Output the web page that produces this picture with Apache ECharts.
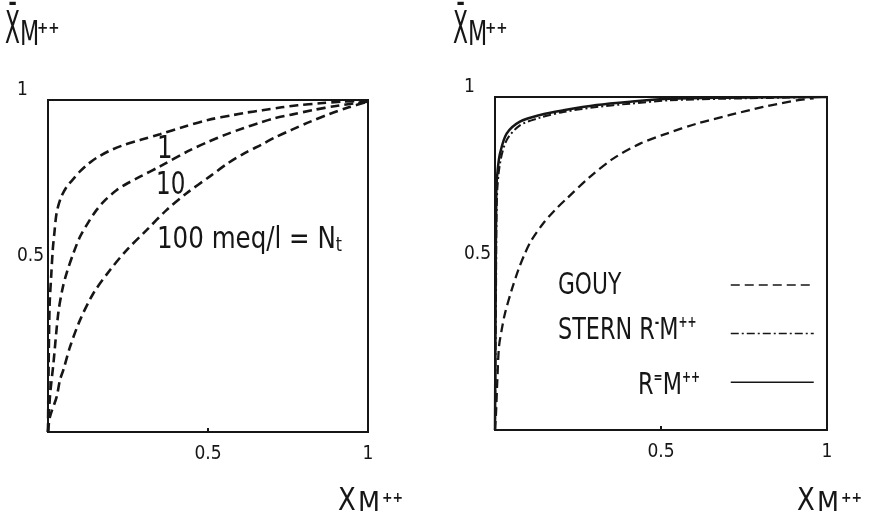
<!DOCTYPE html>
<html><head><meta charset="utf-8">
<script src="https://cdn.jsdelivr.net/npm/echarts@6/dist/echarts.min.js"></script>
<style>html,body{margin:0;padding:0;background:#fff}#c{width:887px;height:517px}</style>
</head><body><div id="c"></div>
<script>
// ---- data ----
const axisTicks = [0, 0.5, 1];
const tickLabels = ['', '0.5', '1'];

// Left panel: N_t = 1, 10, 100 meq/l  (x = X_M++, y = Xbar_M++)
const curveNt1 = [[0,0],[0.002,0.2],[0.005,0.38],[0.01,0.47],[0.015,0.55],[0.02,0.6],[0.027,0.66],[0.04,0.705],[0.058,0.738],[0.08,0.763],[0.1,0.785],[0.125,0.807],[0.152,0.826],[0.19,0.846],[0.23,0.862],[0.29,0.88],[0.35,0.897],[0.42,0.918],[0.5,0.94],[0.58,0.955],[0.62,0.962],[0.67,0.969],[0.73,0.978],[0.78,0.984],[0.85,0.99],[0.92,0.995],[1,0.998]];
const curveNt10 = [[0,0],[0.006,0.106],[0.017,0.207],[0.032,0.357],[0.045,0.43],[0.058,0.478],[0.08,0.54],[0.1,0.588],[0.125,0.63],[0.152,0.669],[0.18,0.7],[0.215,0.729],[0.25,0.75],[0.2875,0.769],[0.35,0.8],[0.444,0.849],[0.501,0.874],[0.553,0.895],[0.61,0.915],[0.657,0.93],[0.704,0.944],[0.761,0.956],[0.83,0.97],[0.9,0.982],[1,0.995]];
const curveNt100 = [[0,0],[0.006,0.045],[0.027,0.106],[0.0375,0.157],[0.048,0.187],[0.069,0.257],[0.1,0.337],[0.142,0.418],[0.194,0.488],[0.246,0.548],[0.308,0.608],[0.371,0.669],[0.433,0.719],[0.506,0.77],[0.563,0.81],[0.616,0.841],[0.668,0.866],[0.709,0.887],[0.761,0.91],[0.82,0.935],[0.88,0.958],[0.94,0.978],[1,0.995]];
const leftCurveLabels = ['1', '10', '100 meq/l = N'];

// Right panel
const gouy = [[0,0],[0.003,0.05],[0.007,0.15],[0.012,0.25],[0.02,0.3],[0.03,0.35],[0.05,0.42],[0.07,0.48],[0.09,0.53],[0.11,0.57],[0.145,0.62],[0.18,0.66],[0.216,0.695],[0.286,0.76],[0.356,0.815],[0.437,0.86],[0.517,0.89],[0.608,0.92],[0.708,0.946],[0.808,0.97],[0.909,0.99],[0.96,0.996]];
const stern = [[0,0],[0.003,0.4],[0.006,0.7],[0.015,0.8],[0.035,0.87],[0.075,0.915],[0.136,0.938],[0.206,0.955],[0.306,0.97],[0.407,0.98],[0.527,0.99],[0.7,0.995],[1,1]];
const rm = [[0,0],[0.002,0.4],[0.004,0.72],[0.008,0.78],[0.015,0.83],[0.035,0.89],[0.075,0.926],[0.136,0.946],[0.206,0.96],[0.306,0.976],[0.407,0.986],[0.527,0.995],[0.7,0.998],[1,1]];
const legendNames = ['GOUY', 'STERN R-M++', 'R=M++'];

// ---- chart ----
const INK = '#161616';
const FONT = "'Liberation Sans Narrow','DejaVu Sans Condensed',sans-serif";
const chart = echarts.init(document.getElementById('c'), null, {renderer: 'canvas'});

function mkX(i) {
  return {
    type: 'value', gridIndex: i, min: 0, max: 1, interval: 0.5,
    axisLine: {show: false}, splitLine: {show: false},
    axisTick: {show: true, inside: true, length: 4, lineStyle: {color: INK, width: 2}},
    axisLabel: {margin: 13, color: INK, fontSize: 19, fontFamily: FONT,
      formatter: v => tickLabels[axisTicks.indexOf(v)] || ''}
  };
}
function mkY(i) {
  return {
    type: 'value', gridIndex: i, min: 0, max: 1, interval: 0.5,
    axisLine: {show: false}, splitLine: {show: false}, axisTick: {show: false},
    axisLabel: {margin: 31, align: 'left', color: INK, fontSize: 19, fontFamily: FONT, verticalAlign: 'bottom',
      formatter: v => tickLabels[axisTicks.indexOf(v)] || ''}
  };
}
function line(name, data, gi, type, width) {
  return {
    name, type: 'line', xAxisIndex: gi, yAxisIndex: gi, data,
    symbol: 'none', showSymbol: false, smooth: 0.3, clip: true,
    lineStyle: {color: INK, width, type}, itemStyle: {color: INK}, animation: false
  };
}
const dash = [9, 5];
const dashDot = [8, 3, 2, 3];

const sup = {fontSize: 15, fontWeight: 'bold', verticalAlign: 'top', fontFamily: FONT, fill: INK};
const big = {fontSize: 31, fontFamily: FONT, fill: INK};

function yName(x0) {
  return [
    {type: 'text', x: x0, y: 32, scaleX: 0.55, style: {text: 'X\u0304', font: `44px ${FONT}`, fill: INK, verticalAlign: 'middle'}},
    {type: 'text', x: x0 + 15, y: 36, scaleX: 0.75, style: {text: 'M', font: `33px ${FONT}`, fill: INK, verticalAlign: 'middle'}},
    {type: 'text', x: x0 + 32, y: 29, style: {text: '++', font: `bold 15px ${FONT}`, fill: INK, verticalAlign: 'middle'}}
  ];
}
function xName(x0) {
  return [
    {type: 'text', x: x0, y: 502, scaleX: 0.9, style: {text: 'X', font: `32px ${FONT}`, fill: INK, verticalAlign: 'middle'}},
    {type: 'text', x: x0 + 20, y: 504, scaleX: 1.05, style: {text: 'M', font: `27px ${FONT}`, fill: INK, verticalAlign: 'middle'}},
    {type: 'text', x: x0 + 44, y: 498, style: {text: '++', font: `bold 14px ${FONT}`, fill: INK, verticalAlign: 'middle'}}
  ];
}

const option = {
  backgroundColor: '#fff',
  animation: false,
  grid: [
    {left: 48, top: 100, width: 320, height: 332, show: true, borderColor: INK, borderWidth: 2, backgroundColor: 'transparent'},
    {left: 495, top: 97, width: 332, height: 333, show: true, borderColor: INK, borderWidth: 2, backgroundColor: 'transparent'}
  ],
  xAxis: [mkX(0), mkX(1)],
  yAxis: [mkY(0), mkY(1)],
  legend: {
    data: legendNames, left: 725, top: 273, orient: 'vertical',
    itemWidth: 83, itemHeight: 14, itemGap: 36, selectedMode: false,
    formatter: () => '', lineStyle: {width: 1.5},
    itemStyle: {color: 'rgba(0,0,0,0)', borderColor: 'rgba(0,0,0,0)', borderWidth: 0, opacity: 0},
    textStyle: {fontSize: 10}
  },
  series: [
    line('1', curveNt1, 0, dash, 2.6),
    line('10', curveNt10, 0, dash, 2.6),
    line('100', curveNt100, 0, dash, 2.6),
    line(legendNames[0], gouy, 1, dash, 2.3),
    line(legendNames[1], stern, 1, dashDot, 2),
    line(legendNames[2], rm, 1, 'solid', 2.5)
  ],
  graphic: [
    ...yName(5), ...yName(453),
    ...xName(338), ...xName(797),
    // curve labels, left panel
    {type: 'text', x: 157, y: 150, scaleX: 0.85, style: {text: leftCurveLabels[0], font: `32px ${FONT}`, fill: INK, verticalAlign: 'middle'}},
    {type: 'text', x: 156, y: 186, scaleX: 0.8, style: {text: leftCurveLabels[1], font: `32px ${FONT}`, fill: INK, verticalAlign: 'middle'}},
    {type: 'text', x: 157, y: 240, scaleX: 0.88, style: {
      text: '{a|' + leftCurveLabels[2] + '}{b|t}',
      rich: {a: {fontSize: 31, fontFamily: FONT, fill: INK}, b: {fontSize: 20, fontFamily: FONT, fill: INK, verticalAlign: 'bottom'}},
      verticalAlign: 'middle'}},
    // legend texts, right panel
    {type: 'text', x: 558, y: 286, scaleX: 0.78, style: {text: '{t|GOUY}', rich: {t: big}, verticalAlign: 'middle'}},
    {type: 'text', x: 558, y: 331, scaleX: 0.8, style: {text: '{t|STERN R}{s|-}{t|M}{s|++}', rich: {t: big, s: sup}, verticalAlign: 'middle'}},
    {type: 'text', x: 700, y: 386, scaleX: 0.8, style: {text: '{t|R}{s|=}{t|M}{s|++}', rich: {t: big, s: sup}, align: 'right', verticalAlign: 'middle'}}
  ]
};
chart.setOption(option);
</script>
</body></html>
